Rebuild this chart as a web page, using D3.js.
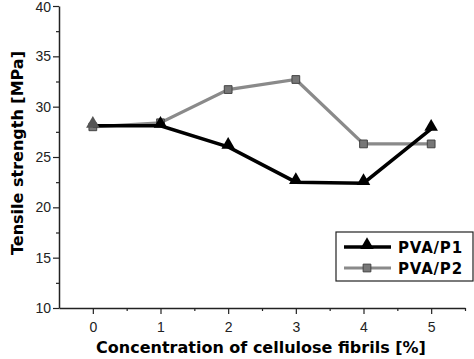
<!DOCTYPE html>
<html>
<head>
<meta charset="utf-8">
<script src="https://cdn.jsdelivr.net/npm/d3@7"></script>
<style>
  body { margin: 0; background: #fff; }
  svg { display: block; font-family: "Liberation Sans", Arial, sans-serif; }
  .title { font-family: "DejaVu Sans", Verdana, sans-serif; font-weight: bold; }
</style>
</head>
<body>
<div id="chart"></div>
<script>
// data
var concentrations = [0, 1, 2, 3, 4, 5];
var p1Values = [28.1, 28.1, 26.0, 22.5, 22.4, 27.8];
var p2Values = [28.0, 28.4, 31.7, 32.7, 26.3, 26.3];
var seriesNames = ["PVA/P1", "PVA/P2"];
var xTicks = [0, 1, 2, 3, 4, 5];
var yTicks = [10, 15, 20, 25, 30, 35, 40];

var margin = {top: 6, right: 9, bottom: 51, left: 59},
    width = 474 - margin.left - margin.right,
    height = 359 - margin.top - margin.bottom;

var svg = d3.select("#chart")
  .append("svg")
    .attr("width", width + margin.left + margin.right)
    .attr("height", height + margin.top + margin.bottom)
  .append("g")
    .attr("transform", "translate(" + margin.left + "," + margin.top + ")");

var x = d3.scaleLinear()
  .domain([-0.5, 5.5])
  .range([0, width]);

var y = d3.scaleLinear()
  .domain([10, 40])
  .range([height, 0]);

// minor ticks
svg.append("g")
  .attr("transform", "translate(0," + height + ")")
  .call(d3.axisBottom(x).tickValues([0.5, 1.5, 2.5, 3.5, 4.5, 5.5]).tickSize(3).tickFormat(""))
  .call(function(g) { g.select(".domain").remove(); });
svg.append("g")
  .call(d3.axisLeft(y).tickValues([12.5, 17.5, 22.5, 27.5, 32.5, 37.5]).tickSize(3).tickFormat(""))
  .call(function(g) { g.select(".domain").remove(); });

// X axis
var xAxis = svg.append("g")
  .attr("transform", "translate(0," + height + ")")
  .call(d3.axisBottom(x).tickValues(xTicks).tickFormat(d3.format("d")).tickSize(6).tickPadding(8).tickSizeOuter(0));
xAxis.selectAll("text").style("font-size", "14px").attr("fill", "#222");

// Y axis
var yAxis = svg.append("g")
  .call(d3.axisLeft(y).tickValues(yTicks).tickSize(6).tickPadding(2).tickSizeOuter(0));
yAxis.selectAll("text").style("font-size", "14px").attr("fill", "#222");
// keep the top label inside the picture
yAxis.selectAll("text").filter(function(d) { return d === 40; }).attr("dy", "0.42em");

svg.selectAll(".domain").attr("stroke", "#222").attr("stroke-width", 1.5);
svg.selectAll(".tick line").attr("stroke", "#222").attr("stroke-width", 1.2);

// axis titles
svg.append("text")
  .attr("class", "title")
  .attr("x", 261 - margin.left)
  .attr("y", height + 45)
  .attr("text-anchor", "middle")
  .style("font-size", "16px")
  .text("Concentration of cellulose fibrils [%]");

svg.append("text")
  .attr("class", "title")
  .attr("transform", "rotate(-90)")
  .attr("x", -(153 - margin.top))
  .attr("y", -36)
  .attr("text-anchor", "middle")
  .style("font-size", "16px")
  .text("Tensile strength [MPa]");

var line = d3.line()
  .x(function(d) { return x(d.c); })
  .y(function(d) { return y(d.v); });

var p1 = concentrations.map(function(c, i) { return {c: c, v: p1Values[i]}; });
var p2 = concentrations.map(function(c, i) { return {c: c, v: p2Values[i]}; });

var tri = d3.symbol().type(d3.symbolTriangle).size(80);
var sq = d3.symbol().type(d3.symbolSquare).size(60);

// PVA/P2 (gray)
svg.append("path")
  .datum(p2)
  .attr("d", line)
  .attr("fill", "none")
  .attr("stroke", "#8a8a8a")
  .attr("stroke-width", 3.2);
svg.append("g").selectAll("path")
  .data(p2)
  .enter()
  .append("path")
    .attr("d", sq)
    .attr("transform", function(d) { return "translate(" + x(d.c) + "," + y(d.v) + ")"; })
    .attr("fill", "#777")
    .attr("stroke", "#444")
    .attr("stroke-width", 1);

// PVA/P1 (black)
svg.append("path")
  .datum(p1)
  .attr("d", line)
  .attr("fill", "none")
  .attr("stroke", "#000")
  .attr("stroke-width", 3.5);
svg.append("g").selectAll("path")
  .data(p1)
  .enter()
  .append("path")
    .attr("d", tri)
    .attr("transform", function(d, i) { return "translate(" + x(d.c) + "," + (y(d.v) - 2) + ")"; })
    .attr("fill", function(d, i) { return i === 0 ? "#555" : "#000"; });

// legend
var legend = svg.append("g")
  .attr("transform", "translate(" + (336 - margin.left) + "," + (232 - margin.top) + ")");
legend.append("rect")
  .attr("width", 137)
  .attr("height", 49)
  .attr("fill", "#fff")
  .attr("stroke", "#222")
  .attr("stroke-width", 1.2);

var legendRows = [
  {name: seriesNames[0], color: "#000", w: 3.5, sym: tri, fill: "#000", stroke: "none", dy: -2},
  {name: seriesNames[1], color: "#8a8a8a", w: 3, sym: sq, fill: "#777", stroke: "#444", dy: 0}
];
legendRows.forEach(function(r, i) {
  var ly = 15 + i * 21;
  legend.append("line")
    .attr("x1", 8).attr("x2", 55)
    .attr("y1", ly).attr("y2", ly)
    .attr("stroke", r.color)
    .attr("stroke-width", r.w);
  legend.append("path")
    .attr("d", r.sym)
    .attr("transform", "translate(31," + (ly + r.dy) + ")")
    .attr("fill", r.fill)
    .attr("stroke", r.stroke);
  legend.append("text")
    .attr("class", "title")
    .attr("x", 62)
    .attr("y", ly + 6)
    .style("font-size", "15px")
    .style("letter-spacing", "0.8px")
    .text(r.name);
});
</script>
</body>
</html>
